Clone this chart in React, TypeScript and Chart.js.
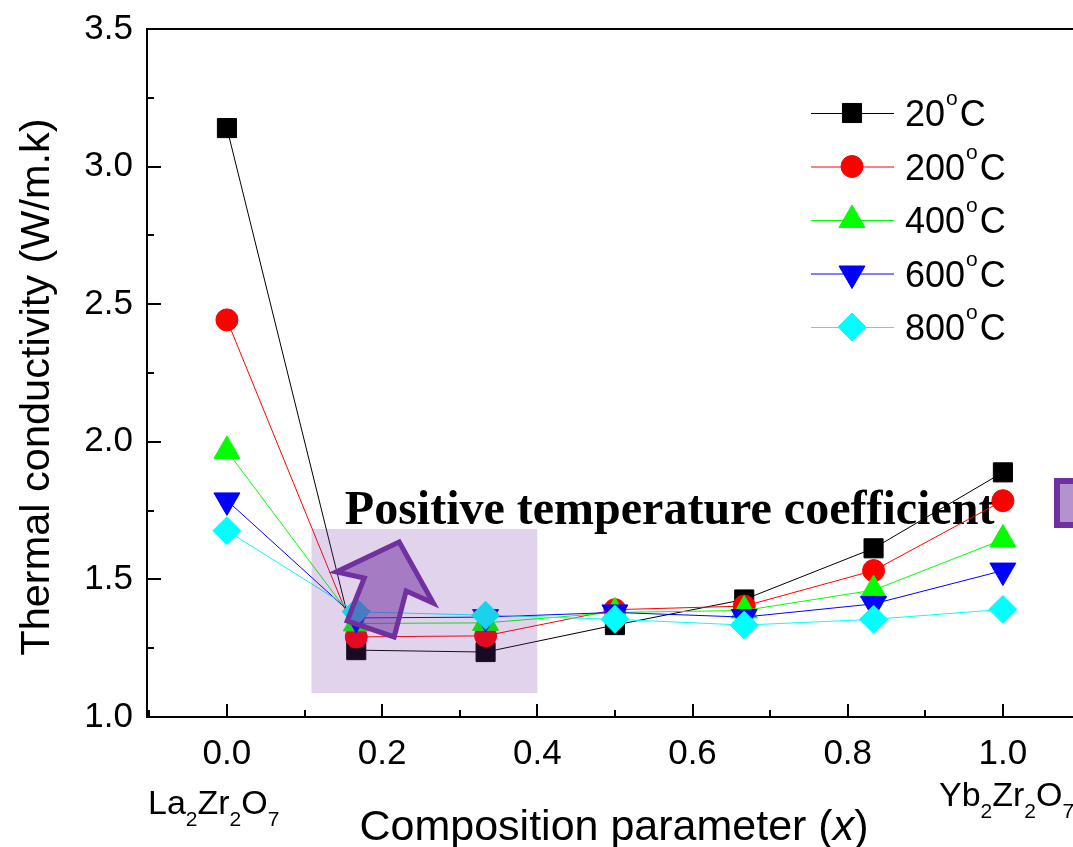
import React, { useEffect, useRef } from "react";
import { Chart, registerables } from "chart.js";
import { drawPoint } from "chart.js/helpers";

Chart.register(...registerables);

// ---------- data ----------
const compositionX = [0, 1 / 6, 1 / 3, 0.5, 2 / 3, 5 / 6, 1];
const k20 = [3.14, 1.243, 1.236, 1.334, 1.427, 1.613, 1.889];
const k200 = [2.443, 1.291, 1.295, 1.39, 1.403, 1.532, 1.786];
const k400 = [1.967, 1.34, 1.342, 1.38, 1.387, 1.461, 1.645];
const k600 = [1.787, 1.36, 1.363, 1.38, 1.363, 1.411, 1.532];
const k800 = [1.677, 1.382, 1.37, 1.355, 1.334, 1.355, 1.391];
const seriesTemps = ["20", "200", "400", "600", "800"];
const seriesValues = [k20, k200, k400, k600, k800];

const xTickValues = [0, 0.2, 0.4, 0.6, 0.8, 1.0];
const xMinorTicks = [-0.1, 0.1, 0.3, 0.5, 0.7, 0.9, 1.1];
const yTickValues = [1.0, 1.5, 2.0, 2.5, 3.0, 3.5];
const yMinorTicks = [1.25, 1.75, 2.25, 2.75, 3.25];

const yTitle = "Thermal conductivity (W/m.k)";
const xTitleParts = ["Composition parameter (", "x", ")"];
const annotationText = "Positive temperature coefficient";
const leftCompound = [["La", "2"], ["Zr", "2"], ["O", "7"]];
const rightCompound = [["Yb", "2"], ["Zr", "2"], ["O", "7"]];

// ---------- styles ----------
const colors = ["#000000", "#ff0000", "#00ff00", "#0000ff", "#00ffff"];
const pointStyles = ["rect", "circle", "triangle", "triangle", "rectRot"];
const pointRotations = [0, 0, 0, 180, 0];
const pointRadii = [13.5, 11, 15, 15, 14];
const SANS = "'Liberation Sans', Arial, Helvetica, sans-serif";
const SERIF = "'Liberation Serif', 'Times New Roman', serif";
const PURPLE = "#7030A0";

function drawCompound(ctx: CanvasRenderingContext2D, parts: string[][], x: number, y: number) {
  let cx = x;
  for (const [main, sub] of parts) {
    ctx.font = `34px ${SANS}`;
    ctx.fillText(main, cx, y);
    cx += ctx.measureText(main).width;
    ctx.font = `21px ${SANS}`;
    ctx.fillText(sub, cx, y + 12);
    cx += ctx.measureText(sub).width;
  }
}

const decorPlugin = {
  id: "decor",
  beforeDatasetsDraw(chart: any) {
    const ctx = chart.ctx as CanvasRenderingContext2D;
    const xs = chart.scales.x;
    const ys = chart.scales.y;
    ctx.save();
    ctx.fillStyle = "#000";
    ctx.font = `bold 48px ${SERIF}`;
    ctx.textAlign = "left";
    ctx.textBaseline = "alphabetic";
    ctx.fillText(annotationText, xs.getPixelForValue(0.152), ys.getPixelForValue(1.701));
    ctx.restore();
  },
  afterDatasetsDraw(chart: any) {
    const ctx = chart.ctx as CanvasRenderingContext2D;
    const xs = chart.scales.x;
    const ys = chart.scales.y;
    const { left, right, top, bottom } = chart.chartArea;
    const px = (v: number) => xs.getPixelForValue(v);
    const py = (v: number) => ys.getPixelForValue(v);
    ctx.save();

    // shaded rectangle
    ctx.fillStyle = "rgba(112,48,160,0.21)";
    const rx0 = px(0.109), rx1 = px(0.4), ry0 = py(1.683), ry1 = py(1.087);
    ctx.fillRect(rx0, ry0, rx1 - rx0, ry1 - ry0);

    // arrow
    const arrow = [
      [0.222, 1.636],
      [0.266, 1.414],
      [0.231, 1.458],
      [0.2155, 1.291],
      [0.155, 1.349],
      [0.177, 1.505],
      [0.141, 1.527],
    ];
    ctx.beginPath();
    arrow.forEach(([ax, ay], i) => {
      if (i === 0) ctx.moveTo(px(ax), py(ay));
      else ctx.lineTo(px(ax), py(ay));
    });
    ctx.closePath();
    ctx.fillStyle = "rgba(112,48,160,0.53)";
    ctx.fill();
    ctx.lineWidth = 5;
    ctx.lineJoin = "miter";
    ctx.strokeStyle = PURPLE;
    ctx.stroke();

    // partial box at right edge
    ctx.fillStyle = "rgba(112,48,160,0.52)";
    ctx.fillRect(1057, 481, 60, 44);
    ctx.lineWidth = 6;
    ctx.strokeStyle = PURPLE;
    ctx.strokeRect(1057, 481, 60, 44);

    // legend
    chart.data.datasets.forEach((ds: any, i: number) => {
      const ly = 113 + i * 53.5;
      ctx.strokeStyle = ds.borderColor;
      ctx.lineWidth = 1;
      ctx.beginPath();
      ctx.moveTo(811, ly + 0.5);
      ctx.lineTo(894, ly + 0.5);
      ctx.stroke();
      ctx.fillStyle = ds.pointBackgroundColor;
      ctx.strokeStyle = ds.pointBorderColor;
      drawPoint(ctx, {
        pointStyle: ds.pointStyle,
        radius: ds.pointRadius,
        rotation: ds.pointRotation,
        borderWidth: 1,
      } as any, 852, ly);
      ctx.fillStyle = "#000";
      ctx.textAlign = "left";
      ctx.textBaseline = "alphabetic";
      ctx.font = `36px ${SANS}`;
      const t = seriesTemps[i];
      let tx = 905;
      ctx.fillText(t, tx, ly + 13);
      tx += ctx.measureText(t).width + 1;
      ctx.font = `21px ${SANS}`;
      ctx.fillText("o", tx, ly - 8);
      tx += ctx.measureText("o").width + 2;
      ctx.font = `36px ${SANS}`;
      ctx.fillText("C", tx, ly + 13);
    });

    // frame and ticks
    ctx.strokeStyle = "#000";
    ctx.lineWidth = 2;
    ctx.strokeRect(left, top, right - left, bottom - top);
    ctx.beginPath();
    yTickValues.forEach((v) => {
      const y = Math.round(py(v));
      ctx.moveTo(left, y);
      ctx.lineTo(left + 14, y);
    });
    yMinorTicks.forEach((v) => {
      const y = Math.round(py(v));
      ctx.moveTo(left, y);
      ctx.lineTo(left + 7, y);
    });
    xTickValues.forEach((v) => {
      const x = Math.round(px(v));
      ctx.moveTo(x, bottom);
      ctx.lineTo(x, bottom - 13);
    });
    xMinorTicks.forEach((v) => {
      const x = Math.round(px(v));
      ctx.moveTo(x, bottom);
      ctx.lineTo(x, bottom - 7);
    });
    ctx.stroke();

    // axis titles
    ctx.fillStyle = "#000";
    ctx.save();
    ctx.translate(49, 387);
    ctx.rotate(-Math.PI / 2);
    ctx.font = `41.5px ${SANS}`;
    ctx.textAlign = "center";
    ctx.textBaseline = "alphabetic";
    ctx.fillText(yTitle, 0, 0);
    ctx.restore();

    ctx.textAlign = "left";
    ctx.textBaseline = "alphabetic";
    const fonts = [`43px ${SANS}`, `italic 43px ${SANS}`, `43px ${SANS}`];
    let total = 0;
    const widths = xTitleParts.map((p, i) => {
      ctx.font = fonts[i];
      const w = ctx.measureText(p).width;
      total += w;
      return w;
    });
    let tx = 614 - total / 2;
    xTitleParts.forEach((p, i) => {
      ctx.font = fonts[i];
      ctx.fillText(p, tx, 840);
      tx += widths[i];
    });

    // compound labels
    drawCompound(ctx, leftCompound, 148, 814);
    drawCompound(ctx, rightCompound, 939, 806);

    ctx.restore();
  },
};

export default function App() {
  const canvasRef = useRef<HTMLCanvasElement | null>(null);

  useEffect(() => {
    const canvas = canvasRef.current;
    if (!canvas) return;
    const datasets = seriesValues.map((vals, i) => ({
      label: `${seriesTemps[i]}°C`,
      data: compositionX.map((x, j) => ({ x, y: vals[j] })),
      borderColor: colors[i],
      backgroundColor: colors[i],
      borderWidth: 1,
      pointStyle: pointStyles[i],
      pointRotation: pointRotations[i],
      pointRadius: pointRadii[i],
      pointBackgroundColor: colors[i],
      pointBorderColor: colors[i],
      pointBorderWidth: 1,
      tension: 0,
      order: 4 - i,
      clip: false as any,
    }));
    const chart = new Chart(canvas, {
      type: "line",
      data: { datasets },
      options: {
        responsive: false,
        animation: false,
        devicePixelRatio: 1,
        layout: { padding: { top: 29, right: 19.5, left: 0, bottom: 0 } },
        plugins: { legend: { display: false }, tooltip: { enabled: false } },
        scales: {
          x: {
            type: "linear",
            min: -0.103,
            max: 1.1,
            afterFit: (s: any) => {
              s.height = 130;
              s.paddingLeft = 0;
              s.paddingRight = 0;
              s.paddingTop = 0;
              s.paddingBottom = 0;
            },
            afterBuildTicks: (s: any) => {
              s.ticks = xTickValues.map((v) => ({ value: v }));
            },
            grid: { display: false, drawTicks: false },
            border: { display: false },
            ticks: {
              color: "#000",
              font: { family: SANS, size: 35 },
              padding: 16,
              maxRotation: 0,
              autoSkip: false,
              callback: (v: any) => Number(v).toFixed(1),
            },
          },
          y: {
            type: "linear",
            min: 1.0,
            max: 3.5,
            afterFit: (s: any) => {
              s.width = 147;
              s.paddingLeft = 0;
              s.paddingRight = 0;
              s.paddingTop = 0;
              s.paddingBottom = 0;
            },
            afterBuildTicks: (s: any) => {
              s.ticks = yTickValues.map((v) => ({ value: v }));
            },
            grid: { display: false, drawTicks: false },
            border: { display: false },
            ticks: {
              color: "#000",
              font: { family: SANS, size: 35 },
              padding: 14,
              autoSkip: false,
              callback: (v: any) => Number(v).toFixed(1),
            },
          },
        },
      },
      plugins: [decorPlugin],
    });
    return () => chart.destroy();
  }, []);

  return (
    <div
      style={{
        position: "fixed",
        left: 0,
        top: 0,
        width: 1073,
        height: 847,
        overflow: "hidden",
        background: "#fff",
      }}
    >
      <canvas ref={canvasRef} width={1100} height={847} style={{ width: 1100, height: 847, display: "block" }} />
    </div>
  );
}
